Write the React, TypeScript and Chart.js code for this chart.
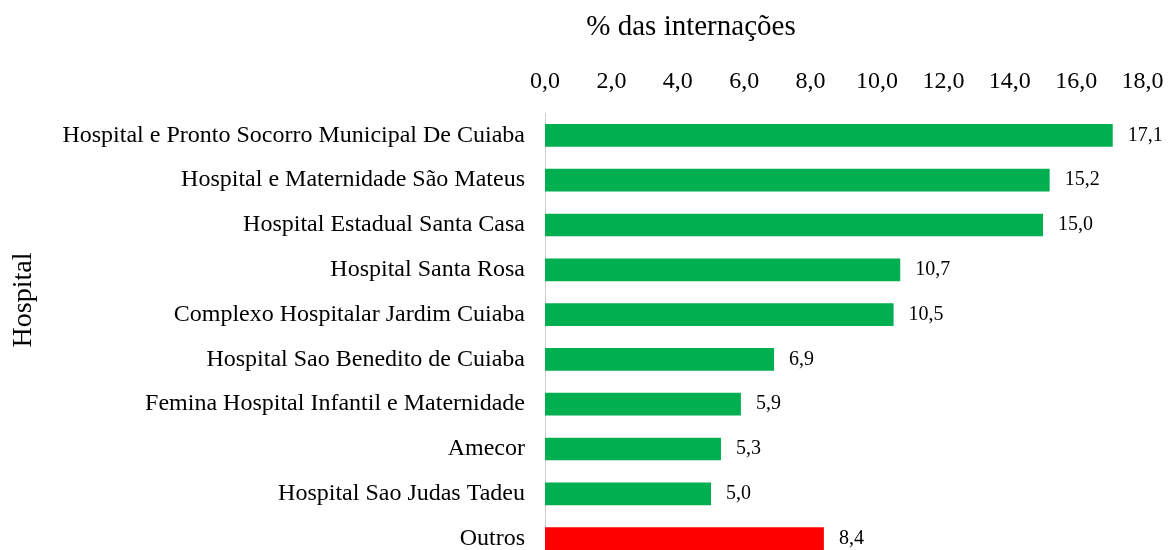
import React, { useEffect, useRef } from "react";
import { Chart, registerables } from "chart.js";

Chart.register(...registerables);

const categories: string[] = [
  "Hospital e Pronto Socorro Municipal De Cuiaba",
  "Hospital e Maternidade São Mateus",
  "Hospital Estadual Santa Casa",
  "Hospital Santa Rosa",
  "Complexo Hospitalar Jardim Cuiaba",
  "Hospital Sao Benedito de Cuiaba",
  "Femina Hospital Infantil e Maternidade",
  "Amecor",
  "Hospital Sao Judas Tadeu",
  "Outros",
];

const values: number[] = [17.1, 15.2, 15.0, 10.7, 10.5, 6.9, 5.9, 5.3, 5.0, 8.4];

const barColors: string[] = [
  "#00B050", "#00B050", "#00B050", "#00B050", "#00B050",
  "#00B050", "#00B050", "#00B050", "#00B050", "#FF0000",
];

const xTitle = "% das internações";
const yTitle = "Hospital";
const xMin = 0;
const xMax = 18;
const xStep = 2;

const FONT = "'Liberation Serif', 'Times New Roman', serif";
const fmt = (v: number) => v.toFixed(1).replace(".", ",");

export default function App() {
  const ref = useRef<HTMLCanvasElement | null>(null);

  useEffect(() => {
    if (!ref.current) return;

    const labelsPlugin = {
      id: "valueLabels",
      afterDatasetsDraw(chart: any) {
        const ctx = chart.ctx;
        const meta = chart.getDatasetMeta(0);
        ctx.save();
        ctx.font = `20px ${FONT}`;
        ctx.fillStyle = "#000";
        ctx.textAlign = "left";
        ctx.textBaseline = "middle";
        meta.data.forEach((bar: any, i: number) => {
          ctx.fillText(fmt(values[i]), bar.x + 15, bar.y);
        });
        ctx.restore();
      },
    };

    const titlesPlugin = {
      id: "axisTitles",
      afterDraw(chart: any) {
        const ctx = chart.ctx;
        ctx.save();
        ctx.fillStyle = "#000";
        ctx.textAlign = "center";
        ctx.textBaseline = "middle";
        ctx.font = `29px ${FONT}`;
        ctx.fillText(xTitle, 691, 27);
        ctx.translate(24, 300);
        ctx.rotate(-Math.PI / 2);
        ctx.font = `28px ${FONT}`;
        ctx.fillText(yTitle, 0, 0);
        ctx.restore();
      },
    };

    const chart = new Chart(ref.current, {
      type: "bar",
      data: {
        labels: categories,
        datasets: [
          {
            data: values,
            backgroundColor: barColors,
            borderWidth: 0,
            categoryPercentage: 1,
            barPercentage: 0.507,
          },
        ],
      },
      options: {
        indexAxis: "y",
        animation: false,
        responsive: false,
        maintainAspectRatio: false,
        layout: { padding: { left: 0, right: 26.4, top: 0, bottom: 0 } },
        plugins: {
          legend: { display: false },
          tooltip: { enabled: false },
        },
        scales: {
          x: {
            position: "top",
            min: xMin,
            max: xMax,
            grid: { display: false, drawTicks: false },
            border: { display: false },
            ticks: {
              stepSize: xStep,
              padding: 16.5,
              color: "#000",
              font: { family: FONT, size: 24 },
              callback: (v: any) => fmt(Number(v)),
            },
            afterFit: (s: any) => {
              s.height = 113;
              s.paddingLeft = 0;
              s.paddingRight = 0;
            },
          },
          y: {
            grid: { display: false, drawTicks: false },
            border: { display: true, color: "#d0d0d0", width: 1 },
            ticks: {
              autoSkip: false,
              padding: 20,
              color: "#000",
              font: { family: FONT, size: 24 },
            },
            afterFit: (s: any) => {
              s.width = 545;
              s.paddingTop = 0;
              s.paddingBottom = 0;
            },
          },
        },
      },
      plugins: [labelsPlugin, titlesPlugin],
    });

    return () => chart.destroy();
  }, []);

  return (
    <div
      style={{
        position: "absolute",
        left: 0,
        top: 0,
        width: 1169,
        height: 550,
        overflow: "hidden",
        background: "#fff",
      }}
    >
      <canvas
        ref={ref}
        width={1169}
        height={561}
        style={{ width: 1169, height: 561, display: "block" }}
      />
    </div>
  );
}
